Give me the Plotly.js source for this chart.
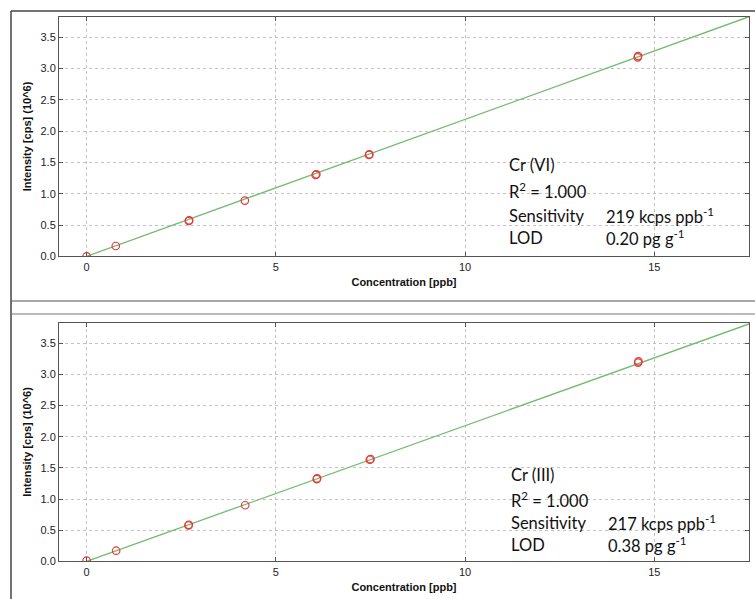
<!DOCTYPE html>
<html>
<head>
<meta charset="utf-8">
<script src="https://cdn.plot.ly/plotly-3.0.1.min.js"></script>
<style>html,body{margin:0;padding:0;background:#fff;overflow:hidden;}
#top{width:755px;height:308px;display:block;}
#bottom{width:755px;height:291px;display:block;}</style>
</head>
<body>
<div id="top"></div>
<div id="bottom"></div>
<script>
// ---- Data ----
const concCr6 = [0, 0.77, 2.70, 2.71, 4.18, 6.05, 6.07, 7.46, 7.47, 14.56, 14.57];
const intCr6  = [0.00, 0.165, 0.565, 0.575, 0.89, 1.30, 1.31, 1.62, 1.63, 3.18, 3.20];
const fitXCr6 = [0, 17.5];
const fitYCr6 = [0, 3.83];

const concCr3 = [0, 0.78, 2.69, 2.70, 4.19, 6.08, 6.09, 7.48, 7.50, 14.57, 14.58];
const intCr3  = [0.01, 0.17, 0.575, 0.585, 0.90, 1.32, 1.33, 1.63, 1.64, 3.19, 3.21];
const fitXCr3 = [0, 17.5];
const fitYCr3 = [0, 3.81];

const xTitle = "Concentration [ppb]";
const yTitle = "Intensity [cps] (10^6)";

const infoCr6 = ["Cr (VI)", "R<sup>2</sup> = 1.000", "Sensitivity", "LOD"];
const valsCr6 = ["219 kcps ppb<sup>-1</sup>", "0.20 pg g<sup>-1</sup>"];
const infoCr3 = ["Cr (III)", "R<sup>2</sup> = 1.000", "Sensitivity", "LOD"];
const valsCr3 = ["217 kcps ppb<sup>-1</sup>", "0.38 pg g<sup>-1</sup>"];

// ---- Styling ----
const W = 755;
const lineGreen = "#74bb6e";
const markerRed = "#e8393c";
const tickFont = {family: "Liberation Sans, Arial, sans-serif", size: 11, color: "#222"};
const titleFont = {family: "Liberation Sans, Arial, sans-serif", size: 11, color: "#111", weight: "bold"};
const annFont = {family: "Lato, Carlito, sans-serif", size: 16.5, color: "#111"};
const xRange = [-0.73, 17.5];
const yRange = [0, 3.83];
const frameCol = "#444";

function textBlock(info, vals, ys, x1, x2) {
  const out = [];
  info.forEach((t, i) => out.push({text: t, x: x1, y: ys[i], xref: "x", yref: "y",
    xanchor: "left", yanchor: "middle", showarrow: false, font: annFont}));
  vals.forEach((t, i) => out.push({text: t, x: x2, y: ys[i + 2], xref: "x", yref: "y",
    xanchor: "left", yanchor: "middle", showarrow: false, font: annFont}));
  return out;
}

function panel(div, H, plotTop, plotBottom, frameLines, conc, inten, fitX, fitY, info, vals, ys, x1, x2) {
  const py = v => 1 - v / H;
  const px = v => v / W;
  const shapes = [
    {type: "line", xref: "paper", yref: "paper", x0: px(11), x1: px(11), y0: py(frameLines.leftTop), y1: py(frameLines.leftBottom), line: {color: frameCol, width: 1.5}}
  ];
  frameLines.horiz.forEach(h => shapes.push({type: "line", xref: "paper", yref: "paper",
    x0: px(11), x1: 1, y0: py(h.y), y1: py(h.y), line: {color: h.c, width: h.w}}));

  const traces = [
    {x: fitX, y: fitY, mode: "lines", line: {color: lineGreen, width: 1.3}, hoverinfo: "skip"},
    {x: conc, y: inten, mode: "markers",
     marker: {symbol: "circle-open", size: 7.5, color: markerRed, line: {width: 1.2, color: markerRed}}}
  ];
  const layout = {
    width: W, height: H,
    margin: {l: 0, r: 0, t: 0, b: 0},
    paper_bgcolor: "#fff", plot_bgcolor: "#fff",
    showlegend: false,
    xaxis: {
      domain: [px(59), px(749)], range: xRange,
      tickmode: "linear", tick0: 0, dtick: 5,
      ticks: "inside", ticklen: 4, tickcolor: "#555", tickwidth: 1,
      showline: true, linecolor: "#555", linewidth: 1, mirror: "ticks",
      showgrid: true, gridcolor: "#c2c2c2", griddash: "dot", gridwidth: 1,
      zeroline: false, tickfont: tickFont,
      title: {text: xTitle, font: titleFont, standoff: 6}
    },
    yaxis: {
      domain: [py(plotBottom), py(plotTop)], range: yRange,
      tickmode: "linear", tick0: 0, dtick: 0.5, tickformat: ".1f",
      ticks: "inside", ticklen: 4, tickcolor: "#555", tickwidth: 1,
      showline: true, linecolor: "#555", linewidth: 1, mirror: "ticks",
      showgrid: true, gridcolor: "#c2c2c2", griddash: "dot", gridwidth: 1,
      zeroline: false, tickfont: tickFont,
      title: {text: yTitle, font: titleFont, standoff: 6}
    },
    annotations: textBlock(info, vals, ys, x1, x2),
    shapes: shapes
  };
  Plotly.newPlot(div, traces, layout, {displayModeBar: false, staticPlot: true});
}

// top panel: page y 0..308
panel("top", 308, 16.7, 256.3,
  {leftTop: 11, leftBottom: 308, horiz: [{y: 11, c: frameCol, w: 1.5}, {y: 301, c: "#555", w: 1.2}]},
  concCr6, intCr6, fitXCr6, fitYCr6, infoCr6, valsCr6, [1.46, 1.04, 0.64, 0.29], 11.1, 13.68);

// bottom panel: page y 308..599 (offset 308)
panel("bottom", 291, 322.7 - 308, 561.3 - 308,
  {leftTop: 0, leftBottom: 291, horiz: [{y: 314 - 308, c: "#777", w: 1.2}]},
  concCr3, intCr3, fitXCr3, fitYCr3, infoCr3, valsCr3, [1.39, 0.99, 0.61, 0.26], 11.15, 13.72);
</script>
</body>
</html>
